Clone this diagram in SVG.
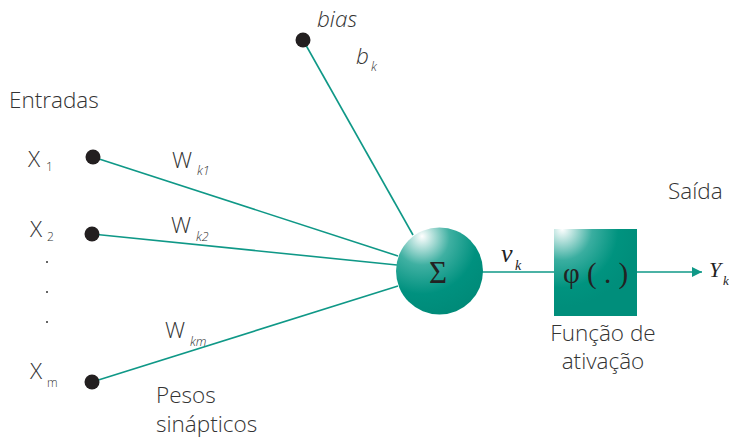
<svg xmlns="http://www.w3.org/2000/svg" width="729" height="438" viewBox="0 0 729 438">
<style>
.lbl{font-family:"Open Sans","Liberation Sans",sans-serif;font-size:22.5px;font-weight:300;fill:#333}
.sub{font-family:"Open Sans","Liberation Sans",sans-serif;font-size:12px;font-weight:300;fill:#333}
.isub{font-family:"Open Sans","Liberation Sans",sans-serif;font-size:12.5px;font-style:italic;font-weight:300;fill:#333}
.ser{font-family:"Liberation Serif","Times New Roman",serif;fill:#222}
.edge{stroke:#0f9887;stroke-width:1.6;fill:none}
.dot{fill:#231f20}
</style>
<defs>
<radialGradient id="gc" cx="0.3" cy="0.15" r="0.9" fx="0.3" fy="0.1">
<stop offset="0" stop-color="#ffffff"/>
<stop offset="0.35" stop-color="#3fb0a2"/>
<stop offset="0.7" stop-color="#00917f"/>
<stop offset="1" stop-color="#008a78"/>
</radialGradient>
<radialGradient id="gs" cx="0.1" cy="0" r="0.9" fx="0.1" fy="0">
<stop offset="0" stop-color="#ffffff"/>
<stop offset="0.4" stop-color="#3aaea0"/>
<stop offset="0.75" stop-color="#00937f"/>
<stop offset="1" stop-color="#008e7b"/>
</radialGradient>
<marker id="arr" markerWidth="12" markerHeight="12" refX="10" refY="5" orient="auto" markerUnits="userSpaceOnUse">
<path d="M0,0 L10,5 L0,10 Z" fill="#0f9887"/>
</marker>
</defs>
<g id="connectors">
<line class="edge" x1="93" y1="157" x2="398" y2="256"/>
<line class="edge" x1="92" y1="234" x2="397" y2="265"/>
<line class="edge" x1="92" y1="382" x2="398" y2="286"/>
<line class="edge" x1="303" y1="40" x2="413" y2="235"/>
<line class="edge" x1="482" y1="272" x2="555" y2="272"/>
<line class="edge" x1="636" y1="272" x2="702" y2="272" marker-end="url(#arr)"/>
</g>
<g id="entradas"><text class="lbl" x="9" y="108">Entradas</text></g>
<g id="x1"><circle class="dot" cx="93" cy="157" r="7.5"/><text class="lbl" x="28" y="167">X</text><text class="sub" x="46" y="171">1</text></g>
<g id="x2"><circle class="dot" cx="92" cy="234" r="7.5"/><text class="lbl" x="30" y="237">X</text><text class="sub" x="47" y="241">2</text></g>
<g id="ellipsis"><circle cx="47" cy="262" r="1" fill="#333"/><circle cx="47" cy="292" r="1" fill="#333"/><circle cx="47" cy="322" r="1" fill="#333"/></g>
<g id="xm"><circle class="dot" cx="92" cy="382" r="7.5"/><text class="lbl" x="30" y="379">X</text><text class="sub" x="47" y="387">m</text></g>
<g id="bias"><text class="lbl" x="317" y="27" font-style="italic">bias</text><circle class="dot" cx="303" cy="40" r="7.5"/><text class="lbl" x="356" y="64" font-style="italic">b</text><text class="isub" x="371" y="71">k</text></g>
<g id="wk1"><text class="lbl" x="172" y="168">W</text><text class="isub" x="197" y="175">k1</text></g>
<g id="wk2"><text class="lbl" x="171" y="233">W</text><text class="isub" x="196" y="241">k2</text></g>
<g id="wkm"><text class="lbl" x="165" y="338">W</text><text class="isub" x="190" y="346">km</text></g>
<g id="pesos"><text class="lbl" x="156" y="403">Pesos</text><text class="lbl" x="156" y="432" font-size="22">sinápticos</text></g>
<g id="soma"><circle cx="439.5" cy="271" r="43.5" fill="url(#gc)"/><text class="ser" x="438" y="283" font-size="31" text-anchor="middle">Σ</text></g>
<g id="vk"><text class="ser" x="501" y="262" font-size="26" font-style="italic">ν</text><text class="ser" x="515" y="270" font-size="14" font-style="italic" fill="#333">k</text></g>
<g id="ativacao"><rect x="554" y="229" width="83" height="87" fill="url(#gs)"/><text class="ser" x="563" y="283" font-size="29">φ ( . )</text>
<text class="lbl" x="603" y="341" text-anchor="middle" font-size="23">Função de</text><text class="lbl" x="603" y="369" text-anchor="middle" font-size="23">ativação</text></g>
<g id="saida"><text class="lbl" x="668" y="199">Saída</text><text class="ser" x="709" y="277" font-size="22" font-style="italic">Y</text><text class="ser" x="723" y="285" font-size="13" font-style="italic" fill="#333">k</text></g>
</svg>
